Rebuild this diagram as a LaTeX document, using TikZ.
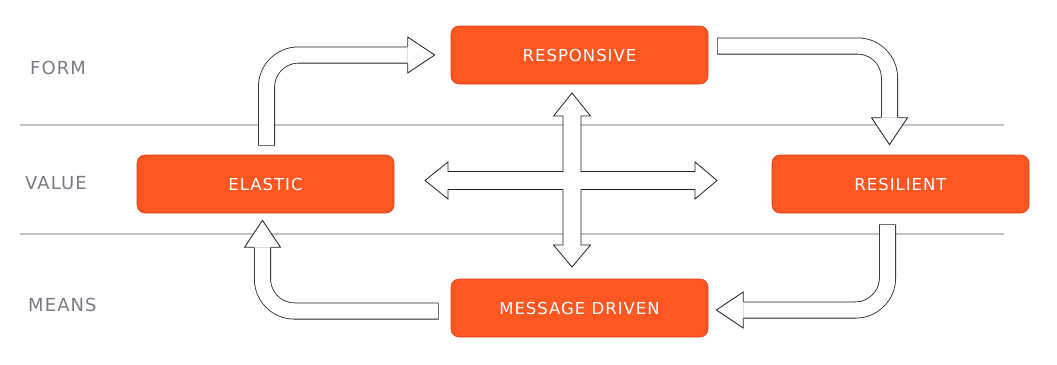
\documentclass[tikz,border=0pt]{standalone}
\usepackage{fontspec}
\setmainfont{DejaVu Sans}[LetterSpace=6]
\usepackage{tikz}
\usetikzlibrary{calc}
\definecolor{myorange}{RGB}{255,87,34}
\definecolor{myedge}{RGB}{214,62,28}
\definecolor{myink}{RGB}{35,35,38}
\definecolor{mylabel}{RGB}{122,122,130}
\definecolor{myrule}{RGB}{194,194,202}
\tikzset{
  trait/.style={rectangle, draw=myedge, fill=myorange, text=white,
    minimum width=257pt, minimum height=58pt, rounded corners=8pt,
    line width=0.6pt, font=\fontsize{16.5}{19}\selectfont},
  rowlabel/.style={anchor=west, text=mylabel, inner sep=0pt,
    font=\fontsize{18}{21}\selectfont},
  rule/.style={line width=1.6pt, color=myrule},
  fatshaft/.style={line width=17pt, color=myink, line cap=butt,
    postaction={draw=white, line width=15.4pt, shorten <=0.8pt}},
  fathead/.pic={\filldraw[fill=white, draw=myink, line width=0.8pt, line join=miter]
    (-27,8.1) -- (-27,18) -- (0,0) -- (-27,-18) -- (-27,-8.1);}
}
\begin{document}
\begin{tikzpicture}[x=1pt, y=-1pt]
  \useasboundingbox (0,0) rectangle (1057,364);

  % Row rules
  \draw[rule] (20,125) -- (1004,125);
  \draw[rule] (20,234) -- (1004,234);

  % Row labels
  \node[rowlabel] (form) at (30,68) {FORM};
  \node[rowlabel] (value) at (25,183) {VALUE};
  \node[rowlabel] (means) at (28,305) {MEANS};

  % Traits
  \node[trait] (responsive) at (579.5,55) {RESPONSIVE};
  \node[trait] (elastic) at (265.5,184) {ELASTIC};
  \node[trait] (resilient) at (900.5,184) {RESILIENT};
  \node[trait] (message) at (579.5,308) {MESSAGE DRIVEN};

  % Outer loop of hollow arrows
  \draw[fatshaft, rounded corners=32pt] ($(elastic.north)+(1,-9)$) |- ($(responsive.west)+(-43,0)$);
  \pic at ($(responsive.west)+(-16,0)$) {fathead};

  \draw[fatshaft, rounded corners=32pt] ($(responsive.east)+(9,-9)$) -| ($(resilient.north)+(-11,-37)$);
  \pic[rotate=-90] at ($(resilient.north)+(-11,-10)$) {fathead};

  \draw[fatshaft, rounded corners=32pt] ($(resilient.south)+(-13,11)$) |- ($(message.east)+(35,2)$);
  \pic[rotate=180] at ($(message.east)+(8,2)$) {fathead};

  \draw[fatshaft, rounded corners=32pt] ($(message.west)+(-12,3)$) -| ($(elastic.south)+(-3,34)$);
  \pic[rotate=90] at ($(elastic.south)+(-3,7)$) {fathead};

  % Cross in the middle
  \coordinate (hub) at ($(responsive.south |- elastic.center)+(-7.5,-3.5)$);
  \begin{scope}[shift={(hub)}]
    \filldraw[fill=white, draw=myink, line width=0.8pt, line join=miter]
      (0,-87.5) -- (18.5,-64.5) -- (9,-64.5) -- (9,-9) -- (123,-9) -- (123,-18.5)
      -- (145,0) -- (123,18.5) -- (123,9) -- (9,9) -- (9,64.5) -- (18.5,64.5)
      -- (0,86.5) -- (-18.5,64.5) -- (-9,64.5) -- (-9,9) -- (-124,9) -- (-124,18.5)
      -- (-147,0) -- (-124,-18.5) -- (-124,-9) -- (-9,-9) -- (-9,-64.5) -- (-18.5,-64.5) -- cycle;
  \end{scope}
\end{tikzpicture}
\end{document}
